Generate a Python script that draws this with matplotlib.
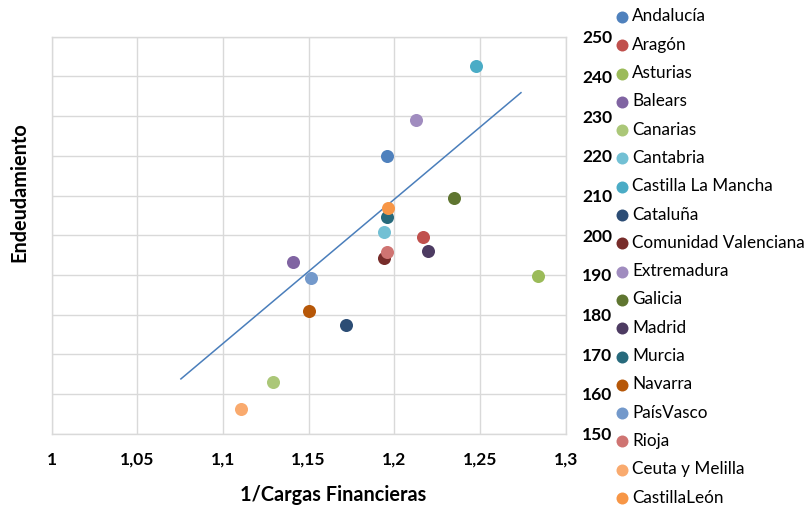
import matplotlib
matplotlib.use("Agg")
import matplotlib.pyplot as plt
from matplotlib.ticker import FuncFormatter, MultipleLocator

plt.rcParams['font.family'] = ['Lato', 'DejaVu Sans']

regions = ["Andalucía", "Aragón", "Asturias", "Balears", "Canarias", "Cantabria",
           "Castilla La Mancha", "Cataluña", "Comunidad Valenciana", "Extremadura",
           "Galicia", "Madrid", "Murcia", "Navarra", "PaísVasco", "Rioja",
           "Ceuta y Melilla", "CastillaLeón"]
cargas_inv = [1.1957, 1.2165, 1.2836, 1.1411, 1.1290, 1.1941, 1.2474, 1.1718, 1.1941,
              1.2126, 1.2346, 1.2198, 1.1955, 1.1500, 1.1514, 1.1955, 1.1105, 1.1961]
endeudamiento = [220.0, 199.5, 189.8, 193.2, 162.9, 200.7, 242.5, 177.4, 194.2,
                 228.9, 209.4, 195.9, 204.7, 180.9, 189.1, 195.8, 156.1, 206.9]
colors = ["#4F81BD", "#C0504D", "#9BBB59", "#8064A2", "#ABC778", "#72C0D4",
          "#4BACC6", "#2C4D75", "#772C2A", "#A08CBF", "#5F7530", "#4D3B62",
          "#276A7C", "#B65708", "#7399CB", "#CF7472", "#F9AA6E", "#F79646"]
trend_x = [1.0755, 1.2739]
trend_y = [163.8, 235.9]
x_ticks = [1.0, 1.05, 1.1, 1.15, 1.2, 1.25, 1.3]

fig = plt.figure(figsize=(8.12, 5.08), dpi=100)
ax = fig.add_axes([51.5/812, 1-433.7/508, (565.7-51.5)/812, (433.7-36.7)/508])

handles = []
for name, xv, yv, c in zip(regions, cargas_inv, endeudamiento, colors):
    h = ax.scatter([xv], [yv], s=88, color=c, label=name, zorder=3, linewidths=0)
    handles.append(h)

ax.plot(trend_x, trend_y, color="#4A7EBB", lw=1.1, zorder=2)

ax.set_xlim(1.0, 1.3)
ax.set_ylim(150, 250)
ax.set_xticks(x_ticks)
ax.yaxis.set_major_locator(MultipleLocator(10))

def fmt_x(v, pos):
    s = ("%.2f" % v).rstrip('0').rstrip('.')
    return s.replace('.', ',')
ax.xaxis.set_major_formatter(FuncFormatter(fmt_x))
ax.yaxis.tick_right()
ax.grid(True, color="#D9D9D9", lw=1.0)
ax.set_axisbelow(True)
for sp in ax.spines.values():
    sp.set_color("#D9D9D9")
    sp.set_linewidth(1.0)
ax.tick_params(axis='both', length=0, labelsize=12.5)
ax.tick_params(axis='x', pad=13)
ax.tick_params(axis='y', pad=12)
for lab in ax.get_xticklabels() + ax.get_yticklabels():
    lab.set_fontweight('bold')

fig.text(333/812, 1-495/508, "1/Cargas Financieras", ha='center', va='center',
         fontsize=14.3, fontweight='bold')
fig.text(19.5/812, 1-191.7/508, "Endeudamiento", ha='center', va='center',
         rotation=90, fontsize=14.3, fontweight='bold')

leg = fig.legend(handles=handles, loc='upper left', bbox_to_anchor=(610/812, 1-5/508),
                 frameon=False, fontsize=12.3, labelspacing=0.72, handletextpad=0.1,
                 handlelength=1.0, markerscale=0.92, borderaxespad=0, borderpad=0.2)

fig.savefig("out.png", dpi=100)
